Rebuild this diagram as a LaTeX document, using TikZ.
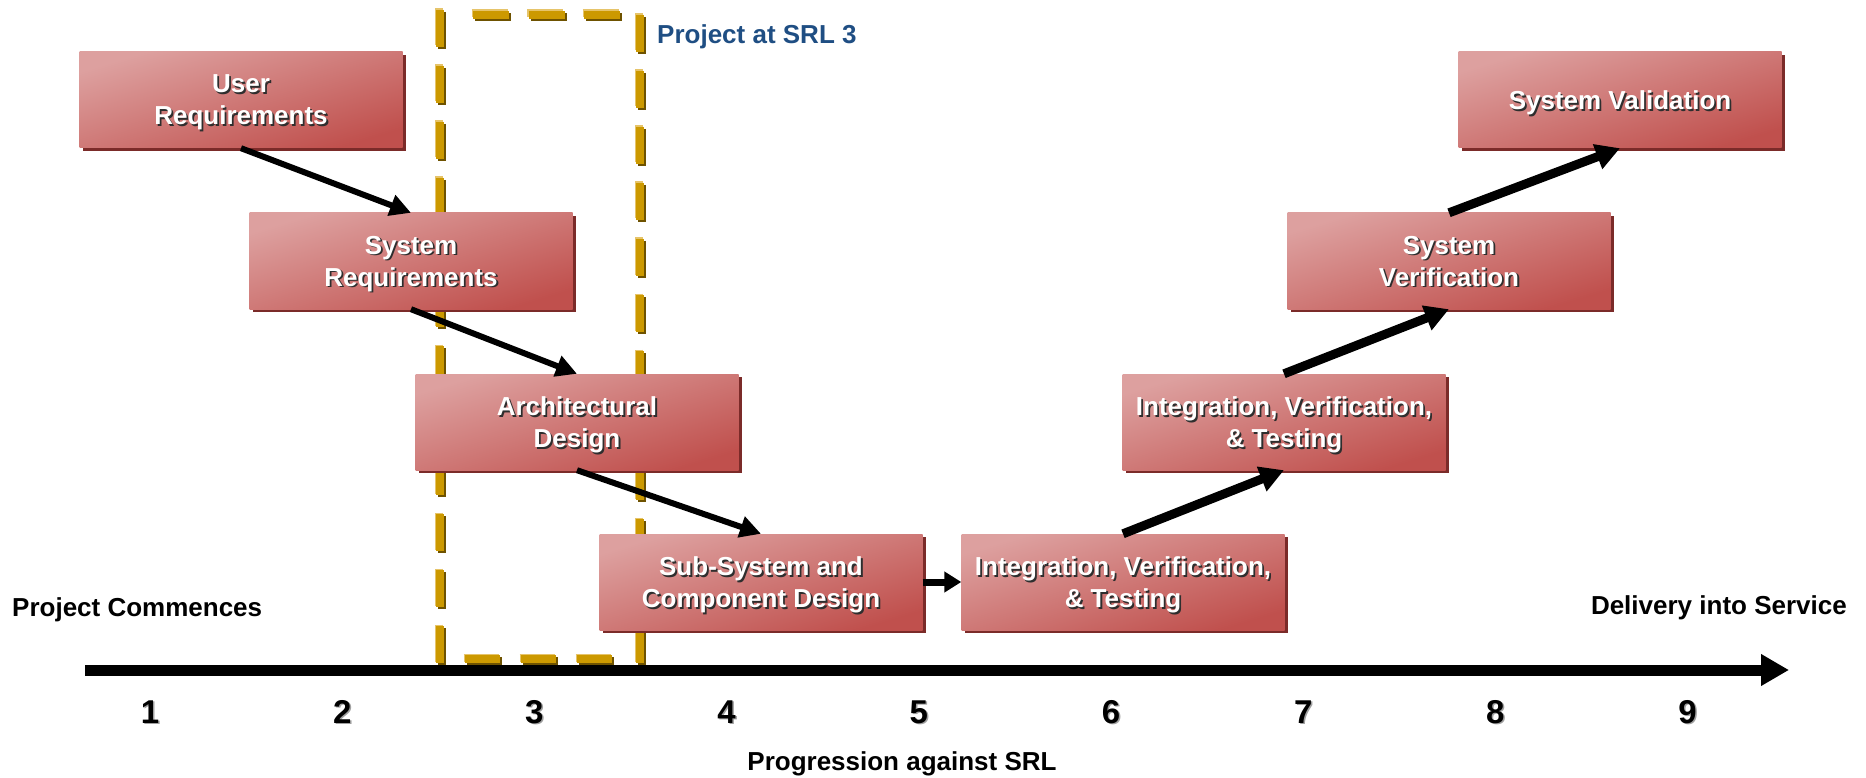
\documentclass[tikz,border=0pt]{standalone}
\usepackage{fontspec}
\setmainfont{Liberation Sans}
\usetikzlibrary{arrows.meta,shadows}
\definecolor{boxlight}{HTML}{DDA09F}
\definecolor{boxdark}{HTML}{C0504D}
\definecolor{boxsh}{HTML}{7B2B29}
\definecolor{gold}{HTML}{CC9900}
\definecolor{goldsh}{HTML}{6E5200}
\definecolor{goldhl}{HTML}{E6C46A}
\definecolor{srlblue}{HTML}{1F4E83}
\definecolor{txtsh}{HTML}{2E2E2E}
\definecolor{numsh}{HTML}{A0A0A0}
\newcommand\shtxt[1]{\makebox[0pt][l]{\hspace{1.8pt}\raisebox{-1.8pt}{\textcolor{txtsh}{#1}}}#1}
\newcommand\shnum[1]{\makebox[0pt][l]{\hspace{1.5pt}\raisebox{-1.5pt}{\textcolor{numsh}{#1}}}#1}
\newcommand\goldsides{%
  \draw[gside, dash pattern=on 37pt off 19pt] (440,10) -- (440,663);
  \draw[gside, dash pattern=on 35pt off 21pt] (465,659) -- (612,659);
  \draw[gside, dash pattern=on 36pt off 19.5pt] (473,15) -- (621,15);
  \draw[gside, dash pattern=on 37pt off 19pt] (640,15) -- (640,663);
}
\begin{document}
\begin{tikzpicture}[x=1pt,y=-1pt,
  stage/.style={minimum width=323pt, minimum height=96pt, inner sep=0pt,
    align=center, text=white, font=\fontsize{26}{32}\selectfont\bfseries,
    text depth=-11pt,
    top color=boxlight, bottom color=boxdark, shading angle=17,
    drop shadow={shadow xshift=3pt, shadow yshift=-3pt, fill=boxsh, opacity=1}},
  descend/.style={line width=6pt, -{Triangle[length=21pt,width=21pt]}},
  ascend/.style={line width=9pt, -{Triangle[length=24pt,width=25pt]}},
  across/.style={line width=7pt, -{Triangle[length=17pt,width=20pt]}},
  axisline/.style={line width=11pt, -{Triangle[length=28pt,width=30pt]}},
  lbl/.style={inner sep=0pt, font=\fontsize{26}{30}\selectfont\bfseries},
  num/.style={inner sep=0pt, font=\fontsize{33}{36}\selectfont\bfseries},
  srllbl/.style={inner sep=0pt, text=srlblue, font=\fontsize{26}{30}\selectfont\bfseries}
]
\useasboundingbox (0,0) rectangle (1866,778);

% SRL 3 frame
\begin{scope}[shift={(-1.5,-1.5)}, gside/.style={line width=8pt, goldhl}]
  \goldsides
\end{scope}
\begin{scope}[shift={(2,2)}, gside/.style={line width=8pt, goldsh}]
  \goldsides
\end{scope}
\begin{scope}[gside/.style={line width=8pt, gold}]
  \goldsides
\end{scope}
\node[srllbl, anchor=base west] (srl) at (657,44) {Project at SRL 3};

% stages
\node[stage] (ur)  at (241,100)  {\shtxt{User}\\\shtxt{Requirements}};
\node[stage] (sr)  at (411,261)  {\shtxt{System}\\\shtxt{Requirements}};
\node[stage] (ad)  at (577,422)  {\shtxt{Architectural}\\\shtxt{Design}};
\node[stage] (ss)  at (761,582)  {\shtxt{Sub-System and}\\\shtxt{Component Design}};
\node[stage] (iv1) at (1123,582) {\shtxt{Integration, Verification,}\\\shtxt{\& Testing}};
\node[stage] (iv2) at (1284,422) {\shtxt{Integration, Verification,}\\\shtxt{\& Testing}};
\node[stage] (sv)  at (1449,261) {\shtxt{System}\\\shtxt{Verification}};
\node[stage, text depth=-3pt] (val) at (1620,100) {\shtxt{System Validation}};

% connectors
\draw[descend] (ur.south) -- (sr.north);
\draw[descend] (sr.south) -- (ad.north);
\draw[descend] (ad.south) -- (ss.north);
\draw[across] (ss.east) -- (iv1.west);
\draw[ascend] (iv1.north) -- (iv2.south);
\draw[ascend] (iv2.north) -- (sv.south);
\draw[ascend] (sv.north) -- (val.south);

% axis
\coordinate (axs) at (85,670);
\coordinate (axe) at (1789,670);
\draw[axisline] (axs) -- (axe);
\foreach \i in {1,...,9}
  \node[num, anchor=base] (n\i) at ({150+192.2*(\i-1)},723) {\shnum{\i}};

\node[lbl, anchor=base west] (pc) at (12,616) {Project Commences};
\node[lbl, anchor=base east] (dis) at (1847,614) {Delivery into Service};
\node[lbl, anchor=base] (prog) at (902,770) {Progression against SRL};
\end{tikzpicture}
\end{document}
